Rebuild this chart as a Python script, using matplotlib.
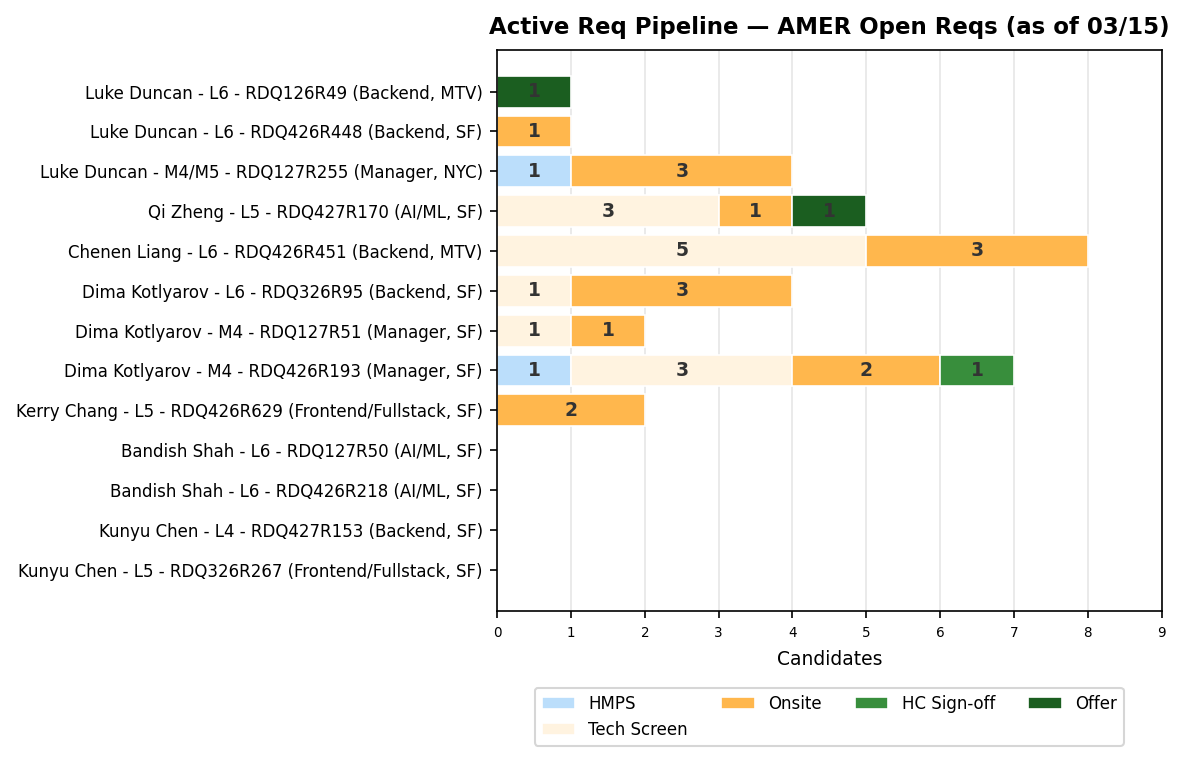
import matplotlib
matplotlib.use("Agg")
import matplotlib.pyplot as plt
import numpy as np

reqs = [
    "Luke Duncan - L6 - RDQ126R49 (Backend, MTV)",
    "Luke Duncan - L6 - RDQ426R448 (Backend, SF)",
    "Luke Duncan - M4/M5 - RDQ127R255 (Manager, NYC)",
    "Qi Zheng - L5 - RDQ427R170 (AI/ML, SF)",
    "Chenen Liang - L6 - RDQ426R451 (Backend, MTV)",
    "Dima Kotlyarov - L6 - RDQ326R95 (Backend, SF)",
    "Dima Kotlyarov - M4 - RDQ127R51 (Manager, SF)",
    "Dima Kotlyarov - M4 - RDQ426R193 (Manager, SF)",
    "Kerry Chang - L5 - RDQ426R629 (Frontend/Fullstack, SF)",
    "Bandish Shah - L6 - RDQ127R50 (AI/ML, SF)",
    "Bandish Shah - L6 - RDQ426R218 (AI/ML, SF)",
    "Kunyu Chen - L4 - RDQ427R153 (Backend, SF)",
    "Kunyu Chen - L5 - RDQ326R267 (Frontend/Fullstack, SF)",
]
stages = ["HMPS", "Tech Screen", "Onsite", "HC Sign-off", "Offer"]
hmps        = [0, 0, 1, 0, 0, 0, 0, 1, 0, 0, 0, 0, 0]
tech_screen = [0, 0, 0, 3, 5, 1, 1, 3, 0, 0, 0, 0, 0]
onsite      = [0, 1, 3, 1, 3, 3, 1, 2, 2, 0, 0, 0, 0]
hc_signoff  = [0, 0, 0, 0, 0, 0, 0, 1, 0, 0, 0, 0, 0]
offer       = [1, 0, 0, 1, 0, 0, 0, 0, 0, 0, 0, 0, 0]
series = [hmps, tech_screen, onsite, hc_signoff, offer]
colors = ["#bbdefb", "#fff3e0", "#ffb74d", "#388e3c", "#1b5e20"]

fig, ax = plt.subplots(figsize=(1184/150, 761/150), dpi=150)
fig.subplots_adjust(left=0.42, right=0.981, top=0.934, bottom=0.197)

y = np.arange(len(reqs))
left = np.zeros(len(reqs))
for name, vals, c in zip(stages, series, colors):
    vals = np.array(vals, dtype=float)
    mask = vals > 0
    ax.barh(y[mask], vals[mask], left=left[mask], color=c, edgecolor="white",
            linewidth=0.8, height=0.8, label=name, zorder=1)
    for yi, li, v in zip(y[mask], left[mask], vals[mask]):
        ax.text(li + v/2, yi, f"{int(v)}", ha="center", va="center", fontsize=9,
                fontweight="bold", color="#333333", zorder=4)
    left += vals

ax.set_yticks(y)
ax.set_yticklabels(reqs, fontsize=8)
ax.set_ylim(len(reqs) - 1 + 1.04, -1.04)
ax.set_xlim(0, 9)
ax.set_xticks(range(0, 10))
ax.tick_params(axis="x", labelsize=6.5)
ax.set_xlabel("Candidates", fontsize=9, labelpad=5)
ax.grid(axis="x", color="#e6e6e6", linewidth=0.8)
ax.set_axisbelow(True)
ax.set_title("Active Req Pipeline \u2014 AMER Open Reqs (as of 03/15)",
             fontsize=11, fontweight="bold", pad=8)
ax.legend(loc="upper center", bbox_to_anchor=(0.5, -0.122), ncol=4, fontsize=8,
          frameon=True)

fig.savefig("out.png", dpi=150)
